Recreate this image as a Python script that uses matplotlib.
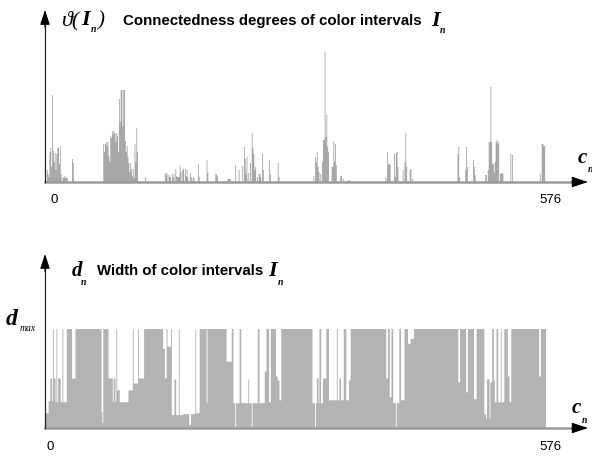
import numpy as np
import matplotlib
matplotlib.use("Agg")
import matplotlib.pyplot as plt

# connectedness degree per color interval (top panel), only non-zero bins
peak_bins = [1, 2, 3, 4, 5, 6, 7, 8, 9, 10, 11, 12, 13, 14, 15, 16, 17, 19, 20, 21, 22, 23, 24, 30, 31,
             66, 67, 68, 69, 70, 71, 72, 73, 74, 75, 76, 77, 78, 79, 80, 81, 82, 83, 84, 85, 86, 87, 88,
             89, 90, 91, 92, 93, 94, 95, 96, 97, 98, 99, 100, 101, 102, 103, 104, 105, 114,
             137, 138, 139, 141, 142, 143, 145, 146, 147, 149, 150, 151, 152, 153, 154, 155, 157, 158,
             160, 161, 162, 163, 166, 167, 169, 170, 175, 176, 185, 186, 195, 196, 197, 209, 210, 211,
             212, 218, 222, 226, 228, 229, 230, 231, 233, 235, 237, 238, 239, 240, 241, 243, 245, 246,
             247, 249, 250, 257, 258, 267, 268,
             308, 310, 311, 312, 313, 314, 316, 318, 319, 320, 321, 322, 323, 324, 325, 329, 330, 331,
             332, 333, 334, 339, 340, 342, 348, 349,
             391, 393, 394, 395, 396, 401, 402, 403, 404, 405, 411, 413, 414, 415, 419, 420, 422,
             474, 475, 476, 483, 484, 485, 492, 493, 494, 506, 507, 509, 510, 511, 512, 513, 514, 515,
             516, 517, 518, 519, 520, 521, 523, 524, 525, 526, 535, 537, 569, 571, 572, 573, 574]
peak_vals = [12, 8, 5, 30, 34, 15, 87, 31, 20, 29, 12, 28, 34, 34, 18, 36, 8, 5, 4, 6, 4, 5, 4, 23, 19,
             38, 30, 38, 40, 36, 40, 26, 20, 46, 44, 51, 48, 51, 49, 40, 49, 46, 30, 83, 60, 92, 92, 56,
             92, 92, 41, 30, 36, 25, 19, 10, 19, 13, 6, 13, 4, 38, 20, 54, 30, 5,
             9, 7, 9, 7, 5, 5, 8, 4, 8, 13, 6, 5, 5, 5, 16, 10, 12, 13,
             13, 6, 13, 5, 9, 5, 5, 4, 18, 5, 22, 9, 8, 8, 6, 3, 3, 3,
             3, 17, 12, 16, 35, 23, 8, 25, 9, 19, 49, 34, 28, 12, 15, 5, 8, 8,
             5, 28, 12, 22, 8, 19, 5,
             6, 25, 20, 30, 15, 10, 8, 20, 42, 42, 130, 45, 67, 35, 30, 15, 15, 41,
             20, 38, 17, 6, 6, 3, 2, 2,
             5, 30, 18, 18, 17, 28, 5, 29, 30, 15, 12, 20, 49, 15, 12, 13, 3,
             28, 35, 5, 12, 35, 15, 22, 15, 7, 7, 7, 12, 40, 40, 95, 40, 18, 18,
             10, 20, 40, 42, 38, 40, 8, 9, 9, 8, 28, 27, 8, 38, 38, 36, 36]

# width of color intervals (bottom panel), runs: start bin -> level (fraction of d_max)
run_start = [0, 3, 5, 7, 8, 9, 11, 12, 13, 14, 17, 19, 20, 24, 30, 34, 64, 65, 66, 72, 76, 77, 78, 80,
             81, 82, 85, 95, 100, 101, 106, 107, 113, 135, 137, 139, 140, 144, 145, 148, 150, 153, 154,
             158, 165, 167, 172, 173, 177, 185, 186, 208, 214, 216, 218, 219, 223, 225, 233, 234, 237,
             238, 244, 246, 252, 254, 257, 259, 265, 267, 269, 271, 307, 310, 311, 312, 314, 315, 317,
             319, 323, 326, 335, 336, 338, 340, 343, 346, 349, 351, 392, 394, 396, 398, 400, 403, 404,
             407, 409, 413, 417, 420, 424, 475, 477, 484, 486, 493, 496, 505, 507, 508, 511, 512, 514,
             516, 517, 519, 521, 524, 525, 528, 532, 534, 536, 568, 570]
run_level = [0.15, 0.27, 0.50, 0.27, 1.0, 0.50, 0.26, 1.0, 0.26, 0.50, 0.26, 1.0, 0.26, 1.0, 0.50, 1.0,
             0.16, 0.05, 1.0, 0.50, 0.50, 0.26, 0.50, 0.26,
             1.0, 0.38, 0.26, 0.38, 1.0, 0.45, 1.0, 0.50, 1.0, 0.80, 0.50, 1.0, 0.82, 1.0, 0.13, 0.49,
             0.13, 1.0, 0.13, 0.14, 0.03, 0.14, 1.0, 0.15, 1.0, 0.25, 1.0, 0.67, 1.0, 0.25, 0.01, 0.25,
             1.0, 0.25, 0.49, 0.25, 0.01, 0.25, 1.0, 0.25, 0.57, 1.0, 0.26, 1.0, 0.52, 0.48, 0.28, 1.0,
             0.25, 0.01, 0.25, 0.50, 0.25, 1.0, 0.25, 0.50, 1.0, 0.28, 1.0, 0.28, 0.50, 0.28, 1.0, 0.28,
             0.48, 1.0, 0.50, 1.0, 0.31, 1.0, 0.25, 0.01, 0.25, 1.0, 0.28, 1.0, 0.85, 0.90, 1.0, 0.46,
             1.0, 0.36, 1.0, 0.29, 1.0, 0.14, 0.09, 0.49, 0.09, 0.46, 1.0, 0.48, 0.26, 1.0, 0.26, 1.0,
             0.26, 1.0, 0.52, 0.26, 1.0, 0.52, 1.0]

n_bins = 576
W, H = 592, 459


def fx(px):
    return px / W


def fy(py):
    return 1 - py / H


conn = np.zeros(n_bins)
conn[peak_bins] = peak_vals
width = np.repeat(run_level, np.diff(run_start + [n_bins]))
edges = np.arange(n_bins + 1)

fig = plt.figure(figsize=(W / 100, H / 100), dpi=100)
ax1 = fig.add_axes([fx(45), fy(182), fx(543), 172 / H])
ax2 = fig.add_axes([fx(45), fy(428), fx(543), 174 / H])

px_per_bin = 500 / n_bins
for ax in (ax1, ax2):
    ax.set_xlim(-1 / px_per_bin, 542 / px_per_bin)
    ax.axis('off')
ax1.set_ylim(0, 172)
ax2.set_ylim(0, 174 / 99)

ax1.stairs(conn, edges, fill=True, color='#a8a8a8', lw=0)
ax2.stairs(width, edges, fill=True, color='#b3b3b3', lw=0)

# axes drawn as arrows
for ax, ytop in ((ax1, 0.93), (ax2, 0.92)):
    ax.plot([0, 0.975], [0, 0], transform=ax.transAxes, color='#9a9a9a', lw=1.8, clip_on=False)
    ax.plot([0, 0], [0, ytop], transform=ax.transAxes, color='#222222', lw=0.9, clip_on=False)
    ax.annotate('', xy=(1.0, 0), xytext=(0.97, 0), xycoords='axes fraction',
                arrowprops=dict(arrowstyle='-|>,head_length=1.0,head_width=0.33', color='black',
                                lw=0.8, mutation_scale=10, shrinkA=0, shrinkB=0))
    ax.annotate('', xy=(0, 1.0), xytext=(0, 0.9), xycoords='axes fraction',
                arrowprops=dict(arrowstyle='-|>,head_length=1.0,head_width=0.33', color='black',
                                lw=0.8, mutation_scale=9, shrinkA=0, shrinkB=0))

serif = ['Liberation Serif', 'DejaVu Serif']
sans = 'Liberation Sans'
bi = dict(family=serif, style='italic', weight='bold', va='baseline')

# top panel labels
fig.text(fx(61), fy(25), 'ϑ(', family=serif, style='italic', size=16, va='baseline')
fig.text(fx(81), fy(25), 'I', size=16, **bi)
fig.text(fx(91), fy(32), 'n', size=7, **bi)
fig.text(fx(98), fy(25), ')', family=serif, style='italic', size=15, va='baseline')
fig.text(fx(123), fy(25), 'Connectedness degrees of color intervals', family=sans, weight='bold',
         size=10.8, va='baseline')
fig.text(fx(431), fy(26), 'I', size=16, **bi)
fig.text(fx(440), fy(33), 'n', size=7, **bi)
fig.text(fx(578), fy(163), 'c', size=15, **bi)
fig.text(fx(588), fy(172), 'n', size=7, **bi)
fig.text(fx(54), fy(200), '0', family=sans, size=9.5, ha='center', va='center')
fig.text(fx(550), fy(200), '576', family=sans, size=9.5, ha='center', va='center')

# bottom panel labels
fig.text(fx(72), fy(276), 'd', size=15, **bi)
fig.text(fx(81), fy(285), 'n', size=7, **bi)
fig.text(fx(97), fy(275), 'Width of color intervals', family=sans, weight='bold', size=10.8,
         va='baseline')
fig.text(fx(268), fy(276), 'I', size=16, **bi)
fig.text(fx(278), fy(285), 'n', size=7, **bi)
fig.text(fx(6), fy(325), 'd', size=17, **bi)
fig.text(fx(20), fy(331), 'max', family=serif, style='italic', size=7, va='baseline')
fig.text(fx(572), fy(413), 'c', size=15, **bi)
fig.text(fx(582), fy(423), 'n', size=7, **bi)
fig.text(fx(50), fy(447), '0', family=sans, size=9.5, ha='center', va='center')
fig.text(fx(550), fy(447), '576', family=sans, size=9.5, ha='center', va='center')

fig.savefig('out.png', dpi=100)
